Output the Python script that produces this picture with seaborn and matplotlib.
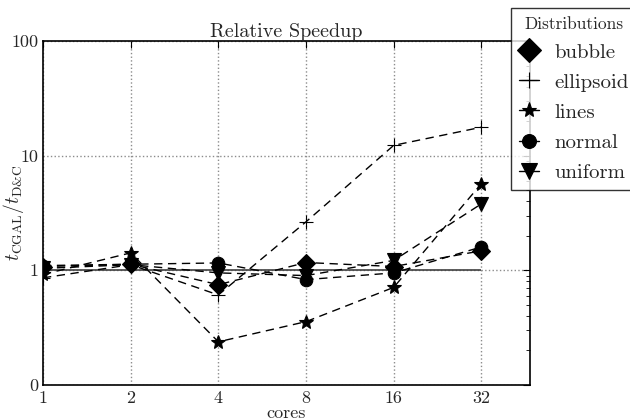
import seaborn as sns
import matplotlib
matplotlib.use("Agg")
import matplotlib.pyplot as plt
from matplotlib.ticker import FuncFormatter, NullLocator, FixedLocator
from matplotlib.lines import Line2D

cores = [1, 2, 4, 8, 16, 32]
bubble = [1.08, 1.13, 0.75, 1.17, 1.08, 1.48]
ellipsoid = [0.86, 1.12, 0.61, 2.65, 12.3, 17.7]
lines = [0.92, 1.42, 0.238, 0.357, 0.71, 5.7]
normal = [1.10, 1.13, 1.16, 0.83, 0.95, 1.6]
uniform = [1.04, 1.12, 0.95, 0.90, 1.22, 3.8]

series = [
    ("bubble", bubble, "D", 9),
    ("ellipsoid", ellipsoid, "+", 10),
    ("lines", lines, "*", 10),
    ("normal", normal, "o", 9),
    ("uniform", uniform, "v", 10),
]

sns.set_style("white")
plt.rcParams["font.family"] = ["cmr10", "DejaVu Serif"]
plt.rcParams["mathtext.fontset"] = "cm"
plt.rcParams["axes.formatter.use_mathtext"] = True

fig = plt.figure(figsize=(6.3, 4.2), dpi=100)
ax = fig.add_axes([43 / 630, 1 - 385 / 420, 487 / 630, 344 / 420])

for name, vals, mk, ms in series:
    sns.lineplot(x=cores, y=vals, ax=ax, color="k", marker=mk, markersize=ms,
                 markeredgecolor="k", markeredgewidth=0.8,
                 linewidth=1, label=name)
    ln = ax.lines[-1]
    ln.set_dashes((6, 4))
    ln.set_clip_on(True)
    ln.set_clip_path(ax.patch)

ax.hlines(1, cores[0], cores[-1], color="0.25", linewidth=1.2, zorder=1)

ax.set_xscale("log", base=2)
ax.set_yscale("log")
ax.set_xlim(1, 47)
ax.set_ylim(0.1, 100)
ax.xaxis.set_major_locator(FixedLocator(cores))
ax.xaxis.set_major_formatter(FuncFormatter(lambda v, p: "%d" % v))
ax.xaxis.set_minor_locator(NullLocator())
ax.yaxis.set_major_formatter(FuncFormatter(lambda v, p: "%d" % v))

ax.grid(True, which="major", color="0.55", linestyle=":", linewidth=1)
ax.tick_params(which="both", direction="in", top=True, right=True, labelsize=13,
               color="k")
ax.tick_params(which="major", length=5)
ax.tick_params(which="minor", length=3)
ax.tick_params(axis="x", pad=4)
for sp in ax.spines.values():
    sp.set_color("k")
    sp.set_linewidth(1.2)

ax.set_title("Relative Speedup", fontsize=14.5, pad=3)
ax.set_xlabel("cores", fontsize=13, labelpad=0)
ax.set_ylabel(r"$t_{\mathrm{CGAL}}/t_{\mathrm{D&C}}$", fontsize=14)
ax.yaxis.set_label_coords(-0.034, 0.5)

handles = [Line2D([], [], color="k", marker=mk,
                  markersize=ms + 3 if mk == "D" else ms + 1, linewidth=1,
                  markeredgewidth=0.8)
           for name, vals, mk, ms in series]
leg = ax.legend(handles, [s[0] for s in series], title="Distributions",
                loc="upper left", bbox_to_anchor=(511 / 630, 1 - 8 / 420),
                bbox_transform=fig.transFigure, borderaxespad=0,
                fontsize=15, title_fontsize=12.5,
                frameon=True, fancybox=False, handlelength=0.95,
                borderpad=0.4, labelspacing=0.55, handletextpad=0.75)
leg.get_frame().set_edgecolor("k")
leg.get_frame().set_linewidth(1)

fig.savefig("out.png", dpi=100)
